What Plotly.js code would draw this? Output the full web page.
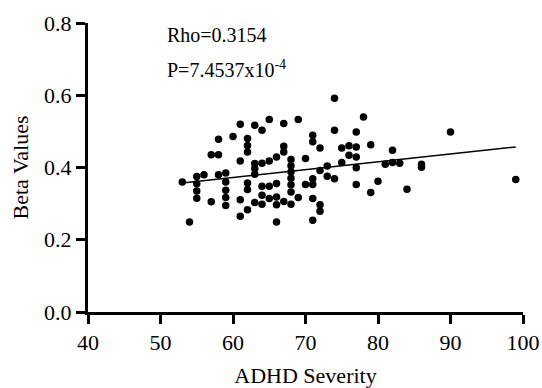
<!DOCTYPE html>
<html>
<head>
<meta charset="utf-8">
<script src="https://cdn.plot.ly/plotly-3.0.1.min.js"></script>
<style>html,body{margin:0;padding:0;background:#fff;}</style>
</head>
<body>
<div id="chart" style="width:542px;height:388px;"></div>
<script>
// ADHD severity (x) and beta values (y)
const severity = [
  53, 54,
  55, 55, 55, 55,
  56,
  57, 57,
  58, 58, 58,
  59, 59, 59, 59, 59,
  60,
  61, 61, 61, 61,
  62, 62, 62, 62, 62, 62,
  63, 63, 63, 63, 63,
  64, 64, 64, 64, 64,
  65, 65, 65, 65,
  66, 66, 66, 66, 66,
  67, 67, 67, 67,
  68, 68, 68, 68, 68, 68, 68,
  69, 69,
  70, 70,
  71, 71, 71, 71, 71, 71,
  72, 72, 72, 72,
  73, 73,
  74, 74, 74,
  75, 75,
  76, 76,
  77, 77, 77, 77, 77,
  78,
  79, 79,
  80, 81,
  82, 82,
  83, 84,
  86, 86,
  90, 99
];
const beta = [
  0.360, 0.249,
  0.375, 0.355, 0.335, 0.315,
  0.380,
  0.305, 0.435,
  0.435, 0.478, 0.380,
  0.385, 0.360, 0.337, 0.317, 0.295,
  0.486,
  0.520, 0.418, 0.311, 0.265,
  0.480, 0.461, 0.443, 0.357, 0.339, 0.283,
  0.517, 0.411, 0.397, 0.381, 0.303,
  0.503, 0.412, 0.348, 0.323, 0.298,
  0.533, 0.418, 0.348, 0.314,
  0.429, 0.356, 0.318, 0.297, 0.249,
  0.522, 0.459, 0.443, 0.306,
  0.422, 0.405, 0.388, 0.370, 0.352, 0.332, 0.298,
  0.533, 0.317,
  0.425, 0.353,
  0.489, 0.471, 0.369, 0.353, 0.314, 0.254,
  0.454, 0.392, 0.297, 0.279,
  0.404, 0.376,
  0.592, 0.503, 0.369,
  0.454, 0.414,
  0.460, 0.434,
  0.498, 0.457, 0.429, 0.399, 0.353,
  0.540,
  0.463, 0.331,
  0.362, 0.409,
  0.448, 0.414,
  0.412, 0.340,
  0.409, 0.401,
  0.498, 0.367
];
// regression line end points
const fitX = [53, 99];
const fitY = [0.357, 0.457];

const xTicks = [40, 50, 60, 70, 80, 90, 100];
const yTicks = [0.0, 0.2, 0.4, 0.6, 0.8];
const statLines = ['Rho=0.3154', 'P=7.4537x10<sup>-4</sup>'];

const FONT = 'Liberation Serif, Times New Roman, serif';

const traces = [
  {
    x: fitX, y: fitY, type: 'scatter', mode: 'lines',
    line: {color: '#000', width: 1.5}, hoverinfo: 'skip'
  },
  {
    x: severity, y: beta, type: 'scatter', mode: 'markers',
    marker: {color: '#000', size: 7.5, line: {width: 0}}
  }
];

const axisCommon = {
  showline: true, linewidth: 3, linecolor: '#000',
  ticks: 'outside', ticklen: 9, tickwidth: 3, tickcolor: '#000',
  showgrid: false, zeroline: false,
  tickfont: {family: FONT, size: 22, color: '#000'}
};

const layout = {
  width: 542, height: 388,
  margin: {l: 88, r: 19, t: 23, b: 76},
  paper_bgcolor: '#fff', plot_bgcolor: '#fff',
  showlegend: false,
  font: {family: FONT, color: '#000'},
  xaxis: Object.assign({}, axisCommon, {
    range: [40, 100], tickvals: xTicks, ticktext: xTicks.map(String),
    title: {text: 'ADHD Severity', font: {family: FONT, size: 22, color: '#000'}, standoff: 15}
  }),
  yaxis: Object.assign({}, axisCommon, {
    range: [0, 0.8], tickvals: yTicks, ticktext: yTicks.map(v => v.toFixed(1)),
    title: {text: 'Beta Values', font: {family: FONT, size: 22, color: '#000'}, standoff: 10}
  }),
  annotations: [
    {x: 50.6, y: 0.766, xref: 'x', yref: 'y', text: statLines[0], showarrow: false,
     xanchor: 'left', yanchor: 'middle', font: {family: FONT, size: 20, color: '#000'}},
    {x: 50.6, y: 0.674, xref: 'x', yref: 'y', text: statLines[1], showarrow: false,
     xanchor: 'left', yanchor: 'middle', font: {family: FONT, size: 20, color: '#000'}}
  ]
};

Plotly.newPlot('chart', traces, layout, {staticPlot: true, displayModeBar: false});
</script>
</body>
</html>
